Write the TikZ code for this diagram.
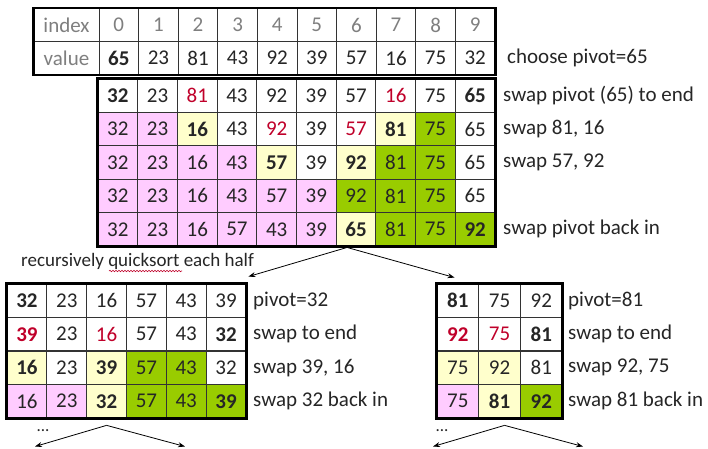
\documentclass[tikz,border=0pt]{standalone}
\usepackage{fontspec}
\setmainfont{Carlito}
\usetikzlibrary{calc,arrows.meta,decorations.pathmorphing}
\definecolor{colw}{HTML}{FFFFFF}
\definecolor{colp}{HTML}{FFCCFF}
\definecolor{coly}{HTML}{FFFFCC}
\definecolor{colg}{HTML}{99CC00}
\definecolor{redt}{HTML}{C0002A}
\definecolor{txt}{HTML}{262626}
\definecolor{hdr}{HTML}{7F7F7F}
\newcommand\qb[1]{\textbf{#1}}
\newcommand\qr[1]{\textcolor{redt}{#1}}
\newcommand\qrb[1]{\textcolor{redt}{\textbf{#1}}}
\newcommand\tabrow[6]{%
  \foreach[count=\qc] \qv/\qf in {#6} {
    \node[cell, minimum width=#4pt, fill=col\qf] (#1r#2c\qc) at ({#3+(\qc-0.5)*#4}, #5) {\qv};
  }}
\tikzset{
  cell/.style={draw=black!80, line width=0.9pt, minimum height=33.4pt, inner sep=0pt,
    font=\fontsize{21}{25}\selectfont, text=txt},
  outer/.style={draw=black, line width=2.4pt},
  lbl/.style={anchor=west, inner sep=0pt, font=\fontsize{21}{25}\selectfont, text=txt},
  conn/.style={draw=black, line width=0.8pt, -{Stealth[length=7pt,width=5pt]}},
}
\begin{document}
\begin{tikzpicture}[x=1pt,y=-1pt]
\useasboundingbox (0,0) rectangle (708,448);
\fill[white] (0,0) rectangle (708,448);

% ---- top table ----
\node[cell, minimum width=65pt, minimum height=33pt, text=hdr] (hidx) at (66.5,25) {index};
\node[cell, minimum width=65pt, minimum height=33pt, text=hdr] (hval) at (66.5,58) {value};
\foreach[count=\qc] \qv in {0,...,9} {
  \node[cell, minimum width=39.6pt, minimum height=33pt, text=hdr] (ti\qc) at ({99+(\qc-0.5)*39.6},25) {\qv};
}
\foreach[count=\qc] \qv in {\qb{65},23,81,43,92,39,57,16,75,32} {
  \node[cell, minimum width=39.6pt, minimum height=33pt] (tv\qc) at ({99+(\qc-0.5)*39.6},58) {\qv};
}
\draw[outer] (hidx.north west) rectangle (tv10.south east);
\node[lbl] (l0) at (507,58) {choose pivot=65};

% ---- middle table ----
\tabrow{m}{1}{98}{39.7}{95.7}{\qb{32}/w,23/w,\qr{81}/w,43/w,92/w,39/w,57/w,\qr{16}/w,75/w,\qb{65}/w}
\tabrow{m}{2}{98}{39.7}{129.1}{32/p,23/p,\qb{16}/y,43/w,\qr{92}/w,39/w,\qr{57}/w,\qb{81}/y,75/g,65/w}
\tabrow{m}{3}{98}{39.7}{162.5}{32/p,23/p,16/p,43/p,\qb{57}/y,39/w,\qb{92}/y,81/g,75/g,65/w}
\tabrow{m}{4}{98}{39.7}{195.9}{32/p,23/p,16/p,43/p,57/p,39/p,92/g,81/g,75/g,65/w}
\tabrow{m}{5}{98}{39.7}{229.3}{32/p,23/p,16/p,57/p,43/p,39/p,\qb{65}/y,81/g,75/g,\qb{92}/g}
\draw[outer] (mr1c1.north west) rectangle (mr5c10.south east);
\node[lbl] (l1) at (503,96) {swap pivot (65) to end};
\node[lbl] (l2) at (503,129) {swap 81, 16};
\node[lbl] (l3) at (503,162.5) {swap 57, 92};
\node[lbl] (l5) at (503,229.3) {swap pivot back in};

% ---- recursion label ----
\node[lbl, font=\fontsize{19}{22}\selectfont] (rec) at (21,261) {recursively quicksort each half};
\coordinate (sqa) at ($(rec.west)+(88,10)$);
\coordinate (sqb) at ($(rec.west)+(161,10)$);
\draw[redt, line width=0.6pt, decorate, decoration={snake, amplitude=0.7pt, segment length=3pt}] (sqa) -- (sqb);

% ---- bottom-left table ----
\tabrow{bl}{1}{7}{39.83}{300.7}{\qb{32}/w,23/w,16/w,57/w,43/w,39/w}
\tabrow{bl}{2}{7}{39.83}{334.2}{\qrb{39}/w,23/w,\qr{16}/w,57/w,43/w,\qb{32}/w}
\tabrow{bl}{3}{7}{39.83}{367.7}{\qb{16}/y,23/w,\qb{39}/y,57/g,43/g,32/w}
\tabrow{bl}{4}{7}{39.83}{401.2}{16/p,23/p,\qb{32}/y,57/g,43/g,\qb{39}/g}
\draw[outer] (blr1c1.north west) rectangle (blr4c6.south east);
\node[lbl] (bll1) at (253,300.7) {pivot=32};
\node[lbl] (bll2) at (253,334.2) {swap to end};
\node[lbl] (bll3) at (253,367.7) {swap 39, 16};
\node[lbl] (bll4) at (253,401.2) {swap 32 back in};

% ---- bottom-right table ----
\tabrow{br}{1}{437}{41.7}{300.7}{\qb{81}/w,75/w,92/w}
\tabrow{br}{2}{437}{41.7}{334.2}{\qrb{92}/w,\qr{75}/w,\qb{81}/w}
\tabrow{br}{3}{437}{41.7}{367.7}{75/y,92/y,81/w}
\tabrow{br}{4}{437}{41.7}{401.2}{75/p,\qb{81}/y,\qb{92}/g}
\draw[outer] (brr1c1.north west) rectangle (brr4c3.south east);
\node[lbl] (brl1) at (568,300.7) {pivot=81};
\node[lbl] (brl2) at (568,334.2) {swap to end};
\node[lbl] (brl3) at (568,367.7) {swap 92, 75};
\node[lbl] (brl4) at (568,401.2) {swap 81 back in};

% ---- arrows ----
\draw[conn] ($(mr5c7.south)+(-9,1)$) -- ($(blr1c6.north east)+(2,-7)$);
\draw[conn] ($(mr5c7.south)+(-9,1)$) -- ($(brr1c1.north west)+(18,-6)$);

\coordinate (bla) at (35,446.5);
\coordinate (blb) at (185,446.5);
\coordinate (bra) at (433,446.5);
\coordinate (brb) at (583,446.5);
\draw[conn] ($(blr4c3.south)+(0,7)$) -- (bla);
\draw[conn] ($(blr4c3.south)+(0,7)$) -- (blb);
\draw[conn] ($(brr4c2.south)+(5,7)$) -- (bra);
\draw[conn] ($(brr4c2.south)+(5,7)$) -- (brb);
\node[lbl, anchor=center, font=\fontsize{17}{19}\selectfont] (dl) at (43,431) {...};
\node[lbl, anchor=center, font=\fontsize{17}{19}\selectfont] (dr) at (442,431) {...};
\end{tikzpicture}
\end{document}
